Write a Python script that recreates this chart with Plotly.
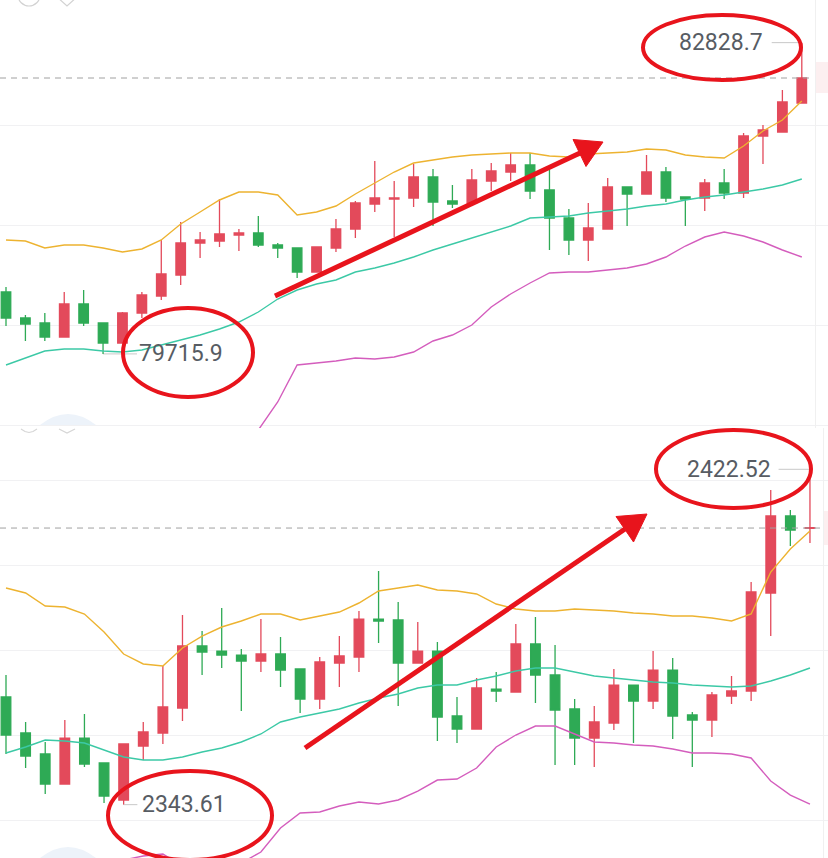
import plotly.graph_objects as go

# ---------------- data: top panel (BTC) ----------------
t_idx = list(range(42))
t_open = [80335,80075,80025,79885,80215,80025,79825,80125,80295,80505,80825,80845,80905,80925,80805,80775,80535,80775,80965,81215,81265,81275,81485,81245,81225,81445,81535,81605,81355,81075,80855,80965,81385,81315,81535,81285,81275,81425,81325,81895,81935,82225]
t_high = [80385,80105,80125,80335,80355,80025,80135,80335,80855,81035,80935,81265,80965,81095,80825,80775,80785,81065,81245,81645,81445,81615,81565,81405,81565,81625,81725,81725,81555,81165,81225,81475,81385,81705,81585,81285,81465,81565,81925,82005,82355,82828.7]
t_low = [79995,79845,79845,79885,79995,79715.9,79825,80075,80255,80405,80675,80785,80745,80785,80675,80475,80535,80735,80875,81135,80885,81185,80995,81175,81225,81345,81445,81265,80755,80705,80645,80965,80995,81315,81235,80995,81145,81265,81275,81615,81935,82225]
t_close = [80075,80015,79885,80215,80025,79825,80125,80305,80515,80825,80855,80915,80925,80805,80775,80535,80785,80965,81225,81275,81275,81485,81235,81215,81455,81545,81605,81345,81075,80855,80975,81385,81315,81535,81275,81265,81425,81325,81895,81955,82235,82475]
t_upper = [80855,80845,80775,80805,80805,80775,80735,80765,80855,81015,81135,81255,81335,81335,81305,81105,81135,81195,81315,81425,81535,81625,81655,81685,81705,81715,81725,81725,81695,81685,81715,81725,81735,81765,81755,81705,81685,81675,81795,81945,82055,82245]
t_mid = [79605,79675,79745,79765,79765,79745,79735,79755,79805,79855,79905,79965,80035,80135,80265,80355,80415,80455,80535,80575,80625,80685,80755,80815,80875,80935,80995,81075,81085,81095,81125,81145,81165,81195,81215,81255,81285,81305,81335,81365,81405,81465]
t_lower = [78355,78505,78715,78725,78725,78715,78735,78745,78755,78695,78675,78675,78735,78955,79235,79605,79625,79645,79675,79665,79685,79735,79845,79905,80005,80185,80315,80425,80525,80535,80535,80555,80575,80615,80685,80795,80885,80935,80895,80835,80755,80685]
t_grid = [79000, 80000, 81000, 82000]
t_last = 82475
t_max_label = "82828.7"
t_min_label = "79715.9"

# ---------------- data: bottom panel (ETH) ----------------
b_idx = list(range(42))
b_open = [2368.94,2360.47,2355.53,2348.47,2359.29,2353.41,2344.71,2357.41,2360.47,2366.35,2380.94,2379.76,2378.82,2377.41,2379.06,2375.53,2368.47,2376.94,2378.35,2387.29,2387.06,2376.94,2379.76,2364.47,2361.41,2370.82,2370.12,2381.41,2374.12,2366.12,2359.29,2362.82,2371.76,2368.00,2375.29,2364.71,2363.53,2369.18,2370.35,2393.41,2411.53,2408.6]
b_high = [2374.12,2363.06,2358.35,2363.53,2364.94,2353.41,2357.88,2363.06,2376.24,2388.24,2384.47,2389.88,2380.24,2387.29,2383.06,2375.53,2378.35,2383.29,2389.18,2398.59,2391.29,2386.59,2381.88,2368.94,2373.41,2374.82,2386.12,2387.76,2381.18,2368.47,2366.82,2375.53,2371.76,2379.76,2378.12,2365.41,2370.12,2373.88,2396.00,2417.65,2412.94,2422.52]
b_low = [2355.53,2352.24,2346.12,2348.47,2352.47,2344.00,2343.61,2354.12,2357.88,2363.29,2374.12,2375.76,2365.65,2374.82,2371.29,2365.18,2366.12,2371.29,2374.82,2381.65,2366.82,2376.94,2358.59,2358.12,2361.41,2367.76,2370.12,2367.53,2352.94,2352.94,2352.47,2361.18,2358.12,2366.12,2359.06,2352.47,2359.53,2367.29,2368.00,2383.29,2404.47,2405.18]
b_close = [2360.00,2355.06,2348.47,2359.29,2353.18,2345.65,2357.88,2360.71,2366.59,2380.94,2379.53,2378.82,2377.41,2379.06,2375.29,2368.47,2377.18,2378.59,2387.29,2386.82,2376.94,2379.76,2364.24,2361.41,2371.06,2370.35,2381.41,2374.12,2365.88,2359.29,2363.06,2371.76,2368.00,2375.29,2364.47,2363.53,2369.41,2370.35,2393.65,2411.53,2408.24,2408.8]
b_upper = [2394.59,2393.41,2390.35,2390.12,2388.47,2384.24,2379.06,2376.71,2376.24,2380.47,2383.29,2385.41,2386.82,2388.47,2388.47,2387.06,2388.00,2388.94,2391.06,2393.88,2394.59,2395.29,2394.12,2393.88,2393.18,2390.82,2389.65,2389.18,2389.18,2389.65,2389.41,2389.18,2388.71,2388.47,2388.00,2388.00,2387.53,2386.82,2388.47,2398.35,2403.76,2408.00]
b_mid = [2355.76,2357.18,2358.82,2358.59,2358.12,2356.47,2354.82,2354.12,2354.12,2354.82,2356.00,2356.94,2358.35,2360.24,2363.06,2364.24,2365.18,2366.12,2367.53,2368.71,2369.65,2371.06,2371.76,2371.76,2372.94,2373.88,2375.06,2375.76,2375.76,2374.82,2373.88,2373.41,2372.94,2372.47,2372.24,2371.76,2371.53,2371.29,2371.53,2372.71,2374.12,2375.76]
b_lower = [2316.94,2320.94,2327.29,2328.00,2327.76,2328.71,2330.59,2331.53,2332.00,2329.18,2328.71,2328.47,2329.88,2332.47,2338.12,2341.65,2341.88,2343.29,2344.24,2343.76,2344.71,2346.82,2349.41,2349.65,2352.24,2357.18,2360.00,2362.12,2362.12,2360.24,2358.35,2358.12,2357.65,2357.41,2356.71,2355.76,2355.76,2355.53,2354.59,2349.18,2345.88,2343.76]
b_grid = [2340, 2360, 2380, 2400, 2420]
b_last = 2408.7
b_max_label = "2422.52"
b_min_label = "2343.61"

# ---------------- styles ----------------
W, H = 828, 858
UP = "#E34A5B"
DOWN = "#2EAA55"
C_UP = "#EDB330"
C_MID = "#3CC9A6"
C_LOW = "#D45DBD"
MARK = "#E8141C"
TXT = "#575C63"

def PX(x):
    return x / W

def PY(y):
    return 1 - y / H

fig = go.Figure()

def add_panel(xa, ya, idx, o, h, l, c, up, mid, low):
    fig.add_trace(go.Candlestick(
        x=idx, open=o, high=h, low=l, close=c, xaxis=xa, yaxis=ya,
        increasing=dict(line=dict(color=UP, width=1.3), fillcolor=UP),
        decreasing=dict(line=dict(color=DOWN, width=1.3), fillcolor=DOWN),
        whiskerwidth=0, showlegend=False, hoverinfo="skip"))
    for ser, col in ((up, C_UP), (mid, C_MID), (low, C_LOW)):
        fig.add_trace(go.Scatter(x=idx, y=ser, mode="lines", xaxis=xa, yaxis=ya,
                                 line=dict(color=col, width=1.4),
                                 showlegend=False, hoverinfo="skip"))

add_panel("x", "y", t_idx, t_open, t_high, t_low, t_close, t_upper, t_mid, t_lower)
add_panel("x2", "y2", b_idx, b_open, b_high, b_low, b_close, b_upper, b_mid, b_lower)

split = 1 - 428 / H
axcommon = dict(showgrid=False, zeroline=False, showticklabels=False, showline=False,
                rangeslider=dict(visible=False), fixedrange=True)
ycommon = dict(showgrid=True, gridcolor="#F1F1F3", gridwidth=1, zeroline=False,
               showticklabels=False, showline=False, fixedrange=True)

shapes = []
annotations = []

def ellipse(x0, y0, x1, y1):
    shapes.append(dict(type="circle", xref="paper", yref="paper",
                       x0=PX(x0), x1=PX(x1), y0=PY(y1), y1=PY(y0),
                       line=dict(color=MARK, width=4)))

def arrow(sx, sy, bx, by, tx, ty, c1, c2):
    shapes.append(dict(type="line", xref="paper", yref="paper",
                       x0=PX(sx), y0=PY(sy), x1=PX(bx), y1=PY(by),
                       line=dict(color=MARK, width=5)))
    path = (f"M {PX(tx)},{PY(ty)} L {PX(c1[0])},{PY(c1[1])} "
            f"L {PX(c2[0])},{PY(c2[1])} Z")
    shapes.append(dict(type="path", xref="paper", yref="paper", path=path,
                       fillcolor=MARK, line=dict(color=MARK, width=1)))

def ppath(pts, closed=False):
    s = "M " + " L ".join(f"{PX(x)},{PY(y)}" for x, y in pts)
    return s + (" Z" if closed else "")

# current-price dashed lines
shapes.append(dict(type="line", xref="paper", yref="y", x0=0, x1=PX(811),
                   y0=t_last, y1=t_last, line=dict(color="#A0A0A0", width=1, dash="6px,5px")))
shapes.append(dict(type="line", xref="paper", yref="y2", x0=0, x1=PX(820),
                   y0=b_last, y1=b_last, line=dict(color="#A0A0A0", width=1, dash="6px,5px")))

# right edge separators and price tags
shapes.append(dict(type="line", xref="paper", yref="paper", x0=PX(815.5), x1=PX(815.5),
                   y0=PY(428), y1=1, line=dict(color="#F0F0F0", width=1)))
shapes.append(dict(type="line", xref="paper", yref="paper", x0=PX(823.5), x1=PX(823.5),
                   y0=0, y1=PY(428), line=dict(color="#F0F0F0", width=1)))
shapes.append(dict(type="rect", xref="paper", yref="paper", x0=PX(816), x1=1,
                   y0=PY(93), y1=PY(62), fillcolor="#FCEFF0", line=dict(width=0)))
shapes.append(dict(type="rect", xref="paper", yref="paper", x0=PX(824), x1=1,
                   y0=PY(545), y1=PY(511), fillcolor="#FCEFF0", line=dict(width=0)))

# min / max connector lines
shapes.append(dict(type="line", xref="x", yref="y", x0=39.45, x1=41, y0=82828.7, y1=82828.7,
                   line=dict(color="#C8C8C8", width=1)))
shapes.append(dict(type="line", xref="x", yref="y", x0=5, x1=6.75, y0=79715.9, y1=79715.9,
                   line=dict(color="#C8C8C8", width=1), layer="below"))
shapes.append(dict(type="line", xref="x2", yref="y2", x0=39.4, x1=41, y0=2422.52, y1=2422.52,
                   line=dict(color="#C8C8C8", width=1)))
shapes.append(dict(type="line", xref="x2", yref="y2", x0=6, x1=6.7, y0=2343.61, y1=2343.61,
                   line=dict(color="#C8C8C8", width=1)))

# faint header icons (clipped app toolbar) / floating buttons
shapes.append(dict(type="circle", xref="paper", yref="paper",
                   x0=PX(18), x1=PX(40), y0=PY(6), y1=PY(-16),
                   line=dict(color="#D2D2D2", width=1.2)))
shapes.append(dict(type="path", xref="paper", yref="paper",
                   path=ppath([(56, -4), (67, 6), (78, -4)]),
                   line=dict(color="#D2D2D2", width=1.2)))
shapes.append(dict(type="path", xref="paper", yref="paper",
                   path=ppath([(21, 429), (25, 431.5), (29, 432.5), (33, 431.5), (37, 429)]),
                   line=dict(color="#D6D6D6", width=1.2)))
shapes.append(dict(type="path", xref="paper", yref="paper",
                   path=ppath([(59, 429), (67, 433), (75, 429)]),
                   line=dict(color="#D6D6D6", width=1.2)))
for ybase in (425, 858):
    shapes.append(dict(type="path", xref="paper", yref="paper",
                       path=(f"M {PX(40)},{PY(ybase)} Q {PX(68)},{PY(ybase - 22)} "
                             f"{PX(96)},{PY(ybase)} Z"),
                       fillcolor="#EDF3FA", line=dict(width=0)))

# red hand-drawn marks
ellipse(643, 15, 801, 80)
ellipse(123, 308, 253, 397)
ellipse(656, 430, 811, 508)
ellipse(108, 771, 272, 860)
arrow(275, 296, 580, 153, 603, 142, (573, 139.5), (586, 166.5))
arrow(305, 748, 625, 529, 647, 514, (616, 516.5), (633.5, 542))

# labels
def label(text, xc, yval, yref):
    annotations.append(dict(text=text, x=PX(xc), y=yval, xref="paper", yref=yref,
                            showarrow=False, xanchor="center", yanchor="middle",
                            font=dict(family="Roboto, Arial, sans-serif", size=23, color=TXT)))

label(t_max_label, 721, 82828.7, "y")
label(t_min_label, 181, 79715.9, "y")
label(b_max_label, 729, 2422.52, "y2")
label(b_min_label, 184, 2343.61, "y2")

fig.update_layout(
    width=W, height=H,
    margin=dict(l=0, r=0, t=0, b=0),
    paper_bgcolor="white", plot_bgcolor="white",
    showlegend=False, boxgap=0.3,
    xaxis=dict(domain=[0, 1], range=[-0.309, 42.35], anchor="y", **axcommon),
    yaxis=dict(domain=[split, 1], range=[78975, 83255], tickvals=t_grid, anchor="x", **ycommon),
    xaxis2=dict(domain=[0, 1], range=[-0.306, 41.92], anchor="y2", **axcommon),
    yaxis2=dict(domain=[0, split], range=[2331.06, 2432.24], tickvals=b_grid, anchor="x2", **ycommon),
    shapes=shapes,
    annotations=annotations,
)

fig.write_html(
    "out.html",
    config={"displayModeBar": False, "staticPlot": True},
    post_script="document.body.style.margin='0';document.body.style.overflow='hidden';",
)
